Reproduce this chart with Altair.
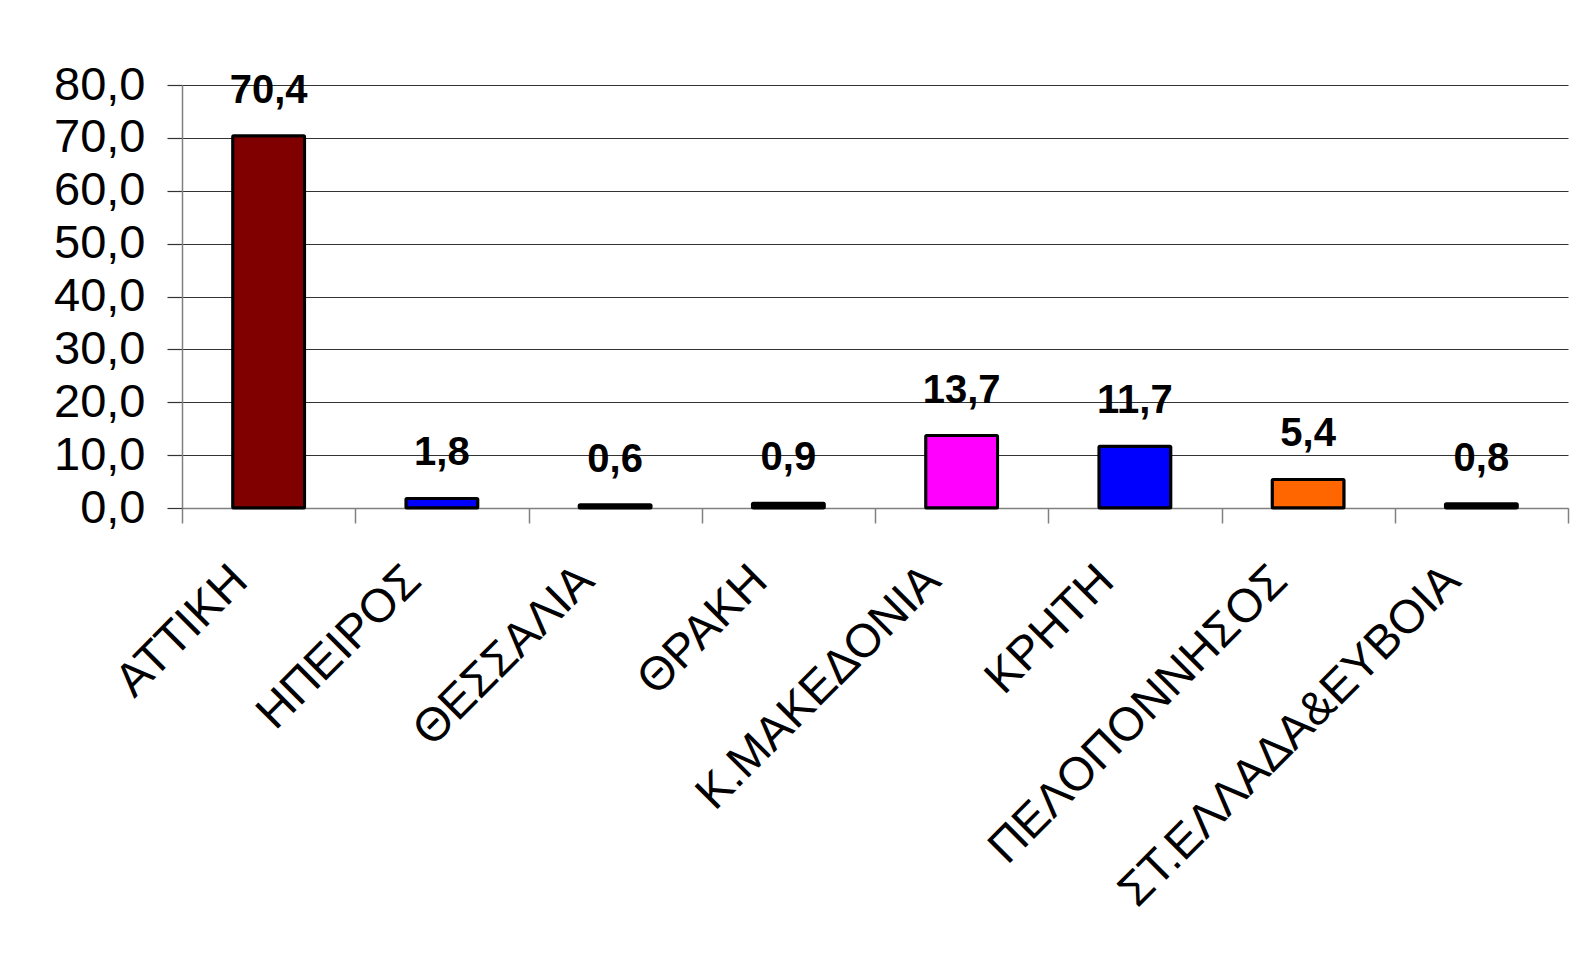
import altair as alt
import pandas as pd

regions = ["ΑΤΤΙΚΗ", "ΗΠΕΙΡΟΣ", "ΘΕΣΣΑΛΙΑ", "ΘΡΑΚΗ", "Κ.ΜΑΚΕΔΟΝΙΑ",
           "ΚΡΗΤΗ", "ΠΕΛΟΠΟΝΝΗΣΟΣ", "ΣΤ.ΕΛΛΑΔΑ&ΕΥΒΟΙΑ"]
values = [70.4, 1.8, 0.6, 0.9, 13.7, 11.7, 5.4, 0.8]
colors = ["#800000", "#0000FF", "#000000", "#000000", "#FF00FF",
          "#0000FF", "#FF6600", "#000000"]
y_ticks = [0, 10, 20, 30, 40, 50, 60, 70, 80]

df = pd.DataFrame({"region": regions, "value": values, "color": colors})

FONT = "Liberation Sans"

x = alt.X(
    "region:N", sort=regions,
    scale=alt.Scale(paddingInner=0, paddingOuter=0),
    axis=alt.Axis(
        title=None, labelAngle=-45, labelAlign="right", labelBaseline="middle",
        labelFontSize=47, labelFont=FONT, labelColor="black",
        labelOffset=-29, labelPadding=50, labelOverlap=False, labelBound=False,
        labelLimit=0, tickBand="extent", tickSize=15, tickColor="#808080",
        tickWidth=1.5, domainColor="#808080", domainWidth=1.5, grid=False,
    ),
)
y = alt.Y(
    "value:Q",
    scale=alt.Scale(domain=[0, 80], nice=False),
    axis=alt.Axis(
        title=None, values=y_ticks,
        labelExpr="replace(format(datum.value, '.1f'), '.', ',')",
        labelFontSize=47, labelFont=FONT, labelColor="black", labelPadding=22,
        labelFlush=False, tickSize=15, tickColor="#333333", tickWidth=1.2,
        gridColor="#333333", gridWidth=1.2, gridOpacity=1,
        domainColor="#808080", domainWidth=1.5,
    ),
)

base = alt.Chart(df).transform_calculate(
    label="replace(format(datum.value, '.1f'), '.', ',')"
)

bars = base.mark_bar(
    width=alt.RelativeBandSize(0.415), stroke="black", strokeWidth=3, cornerRadius=1
).encode(x=x, y=y, color=alt.Color("color:N", scale=None))

text = base.mark_text(
    fontSize=40, fontWeight="bold", font=FONT, baseline="alphabetic",
    dy=-33, color="black"
).encode(x=x, y=y, text="label:N")

chart = alt.layer(bars, text).properties(
    width=1386, height=423,
    autosize=alt.AutoSizeParams(type="none"),
    padding={"left": 174, "top": 77, "right": 5, "bottom": 420},
    background="white",
).configure_view(stroke=None)

chart.save("out.html", embed_options={"renderer": "svg", "actions": False})
